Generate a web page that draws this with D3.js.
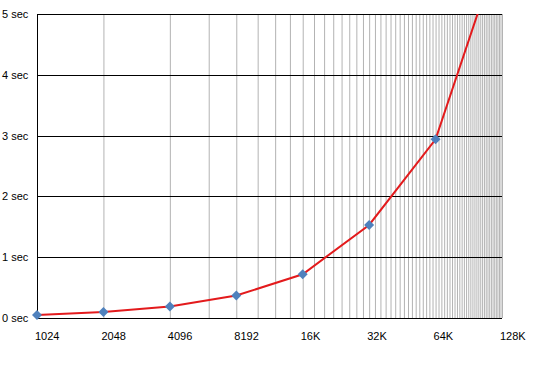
<!DOCTYPE html>
<html>
<head>
<meta charset="utf-8">
<script src="https://cdn.jsdelivr.net/npm/d3@7"></script>
<style>
  body { margin: 0; background: #fff; }
  svg { display: block; font-family: "Liberation Sans", Arial, sans-serif; font-size: 11px; }
</style>
</head>
<body>
<svg id="chart"></svg>
<script>
const sizes = [1024, 2048, 4096, 8192, 16384, 32768, 65536, 131072];
const sizeLabels = ['1024', '2048', '4096', '8192', '16K', '32K', '64K', '128K'];
const seconds = [0.05, 0.10, 0.19, 0.37, 0.72, 1.53, 2.94, 6.2];
const secTicks = [0, 1, 2, 3, 4, 5];
const minorStep = 2048;

const width = 546, height = 369;
const margin = {top: 14, right: 44, bottom: 51, left: 37};

const svg = d3.select('#chart')
  .attr('width', width)
  .attr('height', height);

const x = d3.scaleLog()
  .base(2)
  .domain([1024, 131072])
  .range([margin.left, width - margin.right]);

const y = d3.scaleLinear()
  .domain([0, 5])
  .range([height - margin.bottom, margin.top]);

// minor gridlines at every 2048 step, plus the 1024 start
const minor = d3.range(minorStep, 131072 + 1, minorStep);

svg.append('g')
  .selectAll('line')
  .data(minor)
  .enter()
  .append('line')
    .attr('x1', d => x(d) + 0.5)
    .attr('x2', d => x(d) + 0.5)
    .attr('y1', y(5))
    .attr('y2', y(0))
    .attr('stroke', '#b3b3b3')
    .attr('stroke-width', 1);

svg.append('g')
  .selectAll('line')
  .data(secTicks)
  .enter()
  .append('line')
    .attr('x1', x(1024))
    .attr('x2', x(131072))
    .attr('y1', d => Math.round(y(d)) + 0.5)
    .attr('y2', d => Math.round(y(d)) + 0.5)
    .attr('stroke', '#000');

svg.append('line')
  .attr('x1', x(1024) + 0.5)
  .attr('x2', x(1024) + 0.5)
  .attr('y1', y(5))
  .attr('y2', y(0) + 1)
  .attr('stroke', '#000');

svg.append('g')
  .selectAll('text')
  .data(secTicks)
  .enter()
  .append('text')
    .attr('x', 2)
    .attr('y', d => y(d) + 4)
    .text(d => `${d} sec`);

svg.append('g')
  .selectAll('text')
  .data(sizes)
  .enter()
  .append('text')
    .attr('x', d => x(d) - 2)
    .attr('y', 340)
    .text((d, i) => sizeLabels[i]);

svg.append('clipPath')
  .attr('id', 'plot-clip')
  .append('rect')
    .attr('x', 0)
    .attr('y', margin.top)
    .attr('width', width)
    .attr('height', height - margin.top);

const points = sizes.map((d, i) => ({size: d, sec: seconds[i]}));

const line = d3.line()
  .x(d => x(d.size))
  .y(d => y(d.sec));

const series = svg.append('g')
  .attr('clip-path', 'url(#plot-clip)');

series.append('path')
  .datum(points)
  .attr('d', line)
  .attr('fill', 'none')
  .attr('stroke', '#e31a1c')
  .attr('stroke-width', 2);

series.selectAll('path.marker')
  .data(points)
  .enter()
  .append('path')
    .attr('class', 'marker')
    .attr('d', 'M0,-5L5,0L0,5L-5,0Z')
    .attr('transform', d => `translate(${x(d.size)},${y(d.sec)})`)
    .attr('fill', '#4f81bd');
</script>
</body>
</html>
